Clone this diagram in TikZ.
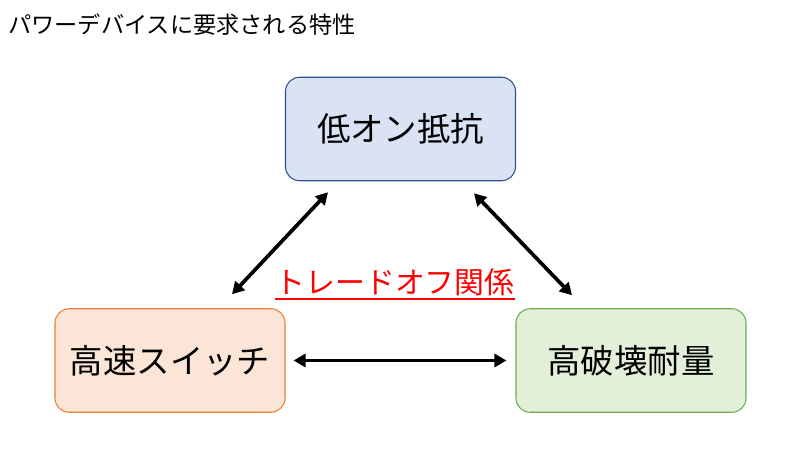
\documentclass[tikz,border=0pt]{standalone}
\usepackage{fontspec}
\setmainfont{Noto Sans CJK JP}
\usetikzlibrary{arrows.meta, positioning}
\definecolor{PBlueFill}{HTML}{DAE3F3}
\definecolor{PBlueLine}{HTML}{2F528F}
\definecolor{POrangeFill}{HTML}{FBE5D6}
\definecolor{POrangeLine}{HTML}{ED7D31}
\definecolor{PGreenFill}{HTML}{E2F0D9}
\definecolor{PGreenLine}{HTML}{70AD47}
\definecolor{PRed}{HTML}{FF0000}

\begin{document}
\begin{tikzpicture}[
  >={Triangle[length=2.4mm, width=2.6mm]},
  box/.style={rectangle, rounded corners=8pt, line width=0.6pt,
              minimum width=4.6cm, minimum height=2.07cm,
              font=\fontsize{19}{22}\selectfont, align=center},
  lowon/.style={box, fill=PBlueFill, draw=PBlueLine},
  speed/.style={box, fill=POrangeFill, draw=POrangeLine},
  breakdown/.style={box, fill=PGreenFill, draw=PGreenLine},
  arr/.style={<->, line width=2.1pt},
  tradeoff/.style={text=PRed, font=\fontsize{17}{20}\selectfont, inner xsep=0pt},
]

% --- canvas ---
\fill[white] (0,0) rectangle (16,9);
\useasboundingbox (0,0) rectangle (16,9);

% --- title ---
\node[anchor=west, font=\fontsize{13.2}{16}\selectfont, inner sep=0pt] (title)
  at (0.16,8.5) {パワーデバイスに要求される特性};

% --- three properties ---
\node[lowon] (ron) at (8.01,6.42) {低オン抵抗};
\node[speed] (fast) at (3.40,1.79) {高速スイッチ};
\node[breakdown] (bv) at (12.62,1.79) {高破壊耐量};

% --- trade-off label ---
\node[tradeoff] (trade) at (7.9,3.36) {トレードオフ関係};
\draw[PRed, line width=1.1pt] ([yshift=-3.5pt]trade.base west) -- ([yshift=-3.5pt]trade.base east);

% --- arrows ---
\draw[arr] ([shift={(1.24,0.28)}]fast.north) -- ([shift={(-1.45,-0.22)}]ron.south);
\draw[arr] ([shift={(1.47,-0.24)}]ron.south) -- ([shift={(-1.18,0.26)}]bv.north);
\draw[arr] ([xshift=0.16cm]fast.east) -- ([xshift=-0.18cm]bv.west);

\end{tikzpicture}
\end{document}
